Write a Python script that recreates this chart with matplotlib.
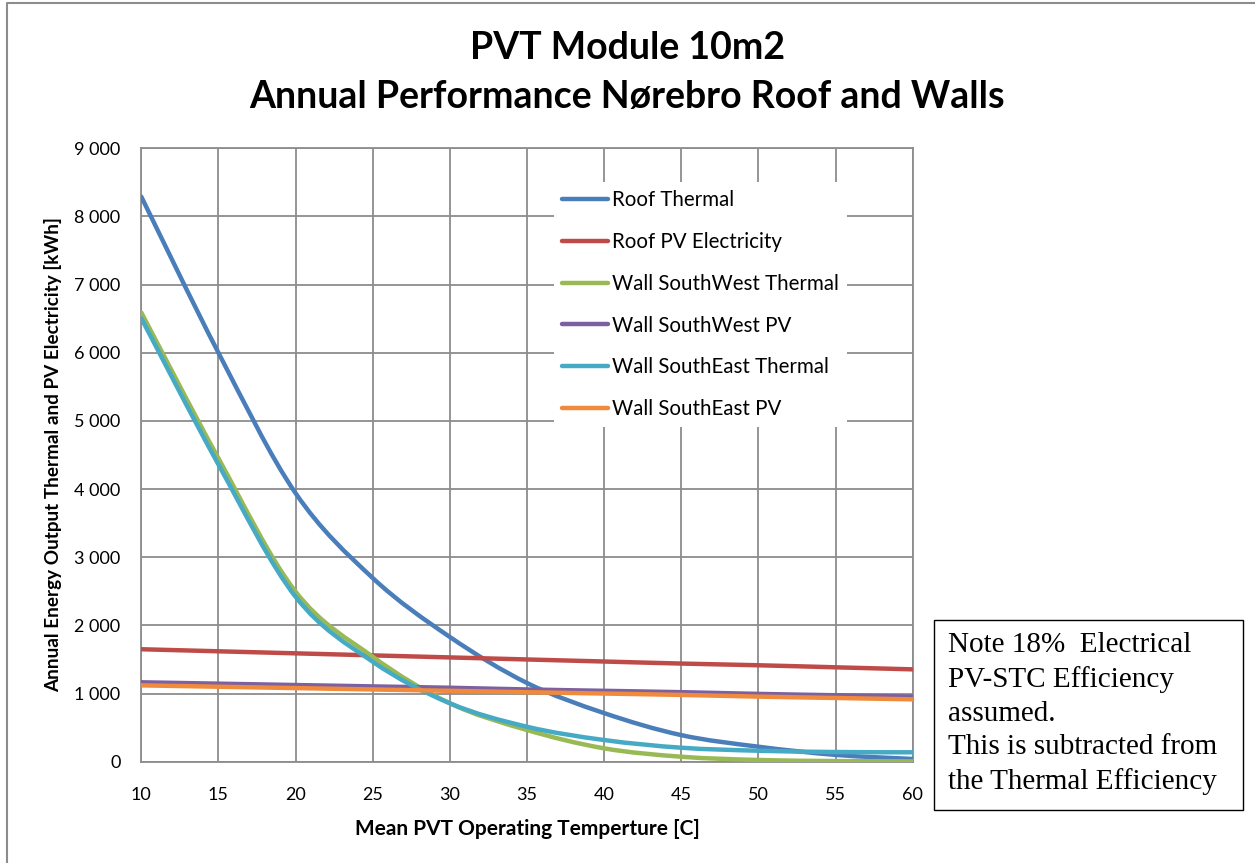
import matplotlib
matplotlib.use("Agg")
import matplotlib.pyplot as plt
from matplotlib.path import Path
from matplotlib.patches import PathPatch, Rectangle
from matplotlib.lines import Line2D
from matplotlib.ticker import FuncFormatter
import numpy as np

# data
temperature = [10, 15, 20, 25, 30, 35, 40, 45, 50, 55, 60]
roof_thermal = [8290, 6000, 3940, 2695, 1830, 1155, 713, 390, 220, 100, 40]
roof_pv = [1650, 1620, 1590, 1560, 1530, 1500, 1470, 1440, 1415, 1385, 1355]
sw_thermal = [6590, 4450, 2495, 1540, 857, 465, 196, 73, 25, 10, 5]
sw_pv = [1165, 1145, 1125, 1105, 1085, 1060, 1040, 1020, 995, 975, 955]
se_thermal = [6506, 4360, 2420, 1467, 857, 513, 318, 205, 161, 142, 138]
se_pv = [1120, 1100, 1080, 1060, 1040, 1020, 1000, 980, 955, 935, 915]

series = [
    ("Roof Thermal", roof_thermal, "#4A7EBB"),
    ("Roof PV Electricity", roof_pv, "#BE4B48"),
    ("Wall SouthWest Thermal", sw_thermal, "#98B954"),
    ("Wall SouthWest PV", sw_pv, "#7D60A0"),
    ("Wall SouthEast Thermal", se_thermal, "#46AAC5"),
    ("Wall SouthEast PV", se_pv, "#F08A3C"),
]

W, H = 1255, 863
LW = 3.2
FONT = "Lato"


def smooth_path(xs, ys):
    """Excel-style smoothed line: cubic Bezier through every data point."""
    p = np.column_stack([xs, ys]).astype(float)
    ext = np.vstack([p[0], p, p[-1]])
    verts = [p[0]]
    codes = [Path.MOVETO]
    for i in range(len(p) - 1):
        p0, p1, p2, p3 = ext[i], ext[i + 1], ext[i + 2], ext[i + 3]
        verts += [p1 + (p2 - p0) / 6, p2 - (p3 - p1) / 6, p2]
        codes += [Path.CURVE4] * 3
    return Path(verts, codes)


fig = plt.figure(figsize=(W / 100, H / 100), dpi=100)

# chart border (only top and left edges are visible in the reference)
fig.lines.append(Line2D([7 / W, 7 / W, 1.0], [0.0, 1 - 3 / H, 1 - 3 / H],
                        transform=fig.transFigure, color="#8C8C8C", linewidth=1.5))

left, right, top, bottom = 141.3, 912.7, 148.3, 761.7
ax = fig.add_axes([left / W, 1 - bottom / H, (right - left) / W, (bottom - top) / H])

handles = []
for name, values, color in series:
    patch = PathPatch(smooth_path(temperature, values), fill=False,
                      edgecolor=color, linewidth=LW, capstyle="round",
                      joinstyle="round", zorder=3)
    ax.add_patch(patch)
    handles.append(Line2D([], [], color=color, linewidth=LW,
                          solid_capstyle="round", label=name))

ax.set_xlim(10, 60)
ax.set_ylim(0, 9000)
ax.set_xticks(range(10, 61, 5))
ax.set_yticks(range(0, 9001, 1000))
ax.yaxis.set_major_formatter(FuncFormatter(lambda v, _: f"{int(v):,}".replace(",", " ")))
ax.grid(True, color="#8C8C8C", linewidth=1.3, zorder=0)
ax.set_axisbelow(True)
for s in ax.spines.values():
    s.set_color("#8C8C8C")
    s.set_linewidth(1.3)
ax.tick_params(length=0, labelsize=13, pad=18)
ax.tick_params(axis="y", pad=15)
for lbl in ax.get_xticklabels() + ax.get_yticklabels():
    lbl.set_fontfamily(FONT)

ax.set_xlabel("Mean PVT Operating Temperture [C]", fontsize=15, fontweight="bold",
              family=FONT, labelpad=12)
ax.set_ylabel("Annual Energy Output Thermal and PV Electricity [kWh]", fontsize=13.6,
              fontweight="bold", family=FONT, labelpad=9)

leg = ax.legend(handles=handles, loc="upper left",
                bbox_to_anchor=((554 - left) / (right - left), (bottom - 182) / (bottom - top)),
                frameon=True, fancybox=False, framealpha=1, edgecolor="none",
                prop={"family": FONT, "size": 14.8}, handlelength=2.23,
                handletextpad=0.2, labelspacing=1.06, borderaxespad=0, borderpad=0.4)
leg.set_zorder(5)

fig.text(0.5, 1 - 48 / H, "PVT Module 10m2", ha="center", va="center",
         fontsize=27, fontweight="bold", family=FONT)
fig.text(0.5, 1 - 97 / H, "Annual Performance Nørebro Roof and Walls", ha="center",
         va="center", fontsize=27, fontweight="bold", family=FONT)

# note box
fig.patches.append(Rectangle((934 / W, 1 - 810 / H), (1242.5 - 934) / W, (810 - 620) / H,
                             transform=fig.transFigure, fill=False,
                             edgecolor="black", linewidth=1.0))
fig.text(948 / W, 1 - 632 / H,
         "Note 18%  Electrical\nPV-STC Efficiency\nassumed.\nThis is subtracted from\nthe Thermal Efficiency",
         ha="left", va="top", fontsize=21, family="Liberation Serif", linespacing=1.38)

fig.savefig("out.png", dpi=100, facecolor="white")
